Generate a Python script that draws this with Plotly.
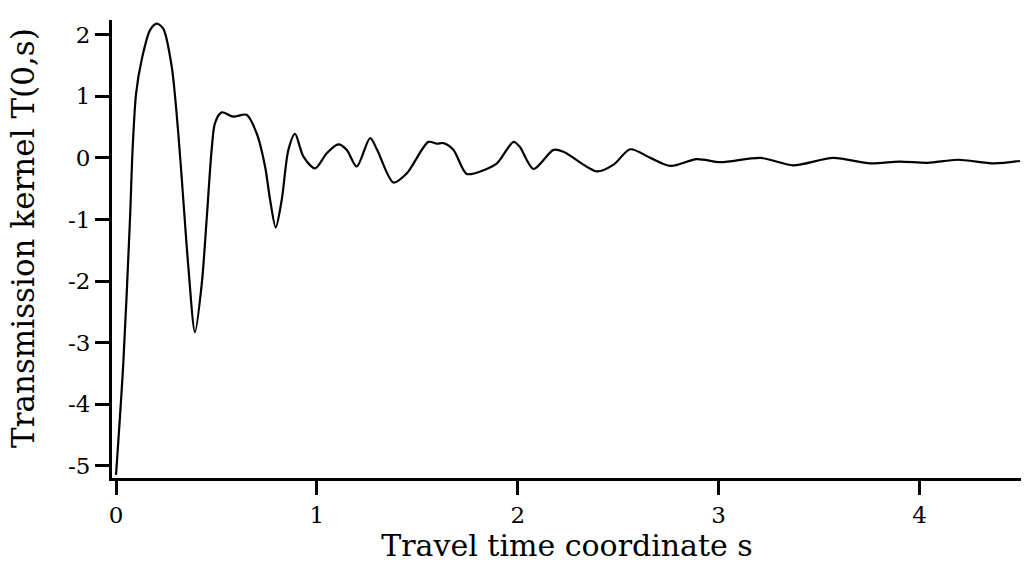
import plotly.graph_objects as go

s_vals = [0, 0.036, 0.07, 0.082, 0.1, 0.128, 0.17, 0.203, 0.235, 0.277, 0.31, 0.335, 0.36, 0.393,
          0.427, 0.452, 0.476, 0.493, 0.526, 0.584, 0.65, 0.70, 0.742, 0.767, 0.795, 0.825, 0.858,
          0.891, 0.933, 0.991, 1.05, 1.107, 1.149, 1.198, 1.265, 1.30, 1.381, 1.448, 1.555, 1.597,
          1.63, 1.68, 1.746, 1.83, 1.896, 1.979, 2.01, 2.078, 2.178, 2.228, 2.394, 2.477, 2.56,
          2.66, 2.76, 2.89, 3.01, 3.21, 3.37, 3.57, 3.755, 3.90, 4.04, 4.19, 4.37, 4.50]
T_vals = [-5.15, -3.35, -0.96, 0.1, 1.05, 1.6, 2.08, 2.18, 2.1, 1.49, 0.4, -0.68, -1.77, -2.83,
          -2.04, -0.96, 0.13, 0.57, 0.74, 0.67, 0.70, 0.4, -0.14, -0.68, -1.13, -0.68, 0.13,
          0.39, 0.02, -0.17, 0.08, 0.22, 0.13, -0.14, 0.32, 0.13, -0.40, -0.25, 0.26, 0.23,
          0.24, 0.13, -0.26, -0.2, -0.09, 0.26, 0.18, -0.18, 0.13, 0.1, -0.22, -0.11, 0.14,
          0.0, -0.13, -0.02, -0.07, 0.0, -0.12, 0.0, -0.09, -0.06, -0.08, -0.03, -0.09, -0.05]

x_ticks = [0, 1, 2, 3, 4]
x_ticktext = ["0", "1", "2", "3", "4"]
y_ticks = [2, 1, 0, -1, -2, -3, -4, -5]
y_ticktext = ["2", "1", "0", "-1", "-2", "-3", "-4", "-5"]
x_title = "Travel time coordinate s"
y_title = "Transmission kernel T(0,s)"

font_family = "DejaVu Serif"

fig = go.Figure()
fig.add_trace(go.Scatter(x=s_vals, y=T_vals, mode="lines",
                         line=dict(color="black", width=2.2, shape="spline", smoothing=0.8),
                         showlegend=False, hoverinfo="skip"))

axis_common = dict(showgrid=False, zeroline=False, showline=True, linecolor="black", linewidth=3,
                   ticks="outside", ticklen=14, tickwidth=3, tickcolor="black", automargin=False,
                   tickfont=dict(family=font_family, size=23, color="black"))

# page body has an 8px default margin, so the figure is made 8px smaller
fig.update_layout(
    width=1021, height=570,
    margin=dict(l=104, r=7, t=12, b=100),
    paper_bgcolor="white", plot_bgcolor="white",
    xaxis=dict(range=[-0.02, 4.51], tickvals=x_ticks, ticktext=x_ticktext,
               title=dict(text=x_title, font=dict(family=font_family, size=30, color="black"),
                          standoff=6),
               **axis_common),
    yaxis=dict(range=[-5.2, 2.24], tickvals=y_ticks, ticktext=y_ticktext,
               **axis_common),
    annotations=[dict(text=y_title, xref="paper", yref="paper", x=-0.0978, y=0.524,
                      xanchor="center", yanchor="middle", textangle=-90, showarrow=False,
                      font=dict(family=font_family, size=31, color="black"))],
)

fig.write_html("out.html")
